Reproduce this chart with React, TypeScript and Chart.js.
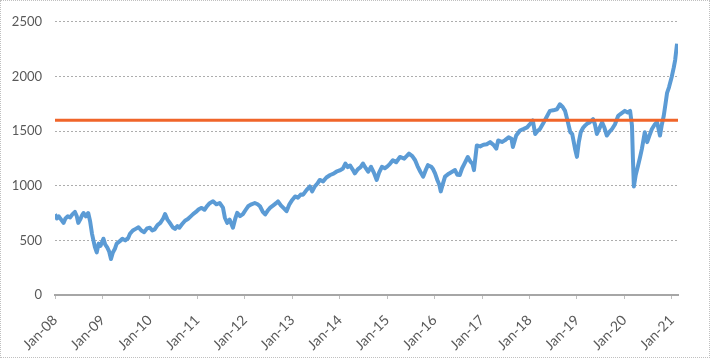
import React, { useEffect, useRef } from 'react';
import { Chart, registerables } from 'chart.js';

Chart.register(...registerables);

// Decimal-year positions of the sampled points
const dates: number[] = [
  2008.0, 2008.04, 2008.08, 2008.13, 2008.18, 2008.22, 2008.27, 2008.32, 2008.37, 2008.42, 2008.46, 2008.49, 2008.53, 2008.57, 2008.6, 2008.65, 2008.7, 2008.74, 2008.78, 2008.81, 2008.84, 2008.88, 2008.92, 2008.96,
  2009.02, 2009.06, 2009.1, 2009.14, 2009.18, 2009.22, 2009.26, 2009.3, 2009.36, 2009.42, 2009.48, 2009.54, 2009.58, 2009.64, 2009.7, 2009.76, 2009.82, 2009.88, 2009.94,
  2010.0, 2010.05, 2010.1, 2010.16, 2010.22, 2010.28, 2010.32, 2010.37, 2010.42, 2010.48, 2010.53, 2010.58, 2010.62, 2010.68, 2010.74, 2010.8, 2010.86, 2010.91, 2010.97,
  2011.03, 2011.09, 2011.15, 2011.2, 2011.26, 2011.33, 2011.4, 2011.47, 2011.54, 2011.58, 2011.63, 2011.68, 2011.75, 2011.8, 2011.84, 2011.9, 2011.96,
  2012.02, 2012.07, 2012.14, 2012.21, 2012.27, 2012.32, 2012.38, 2012.43, 2012.48, 2012.53, 2012.6, 2012.66, 2012.7, 2012.76, 2012.83, 2012.88, 2012.94,
  2013.0, 2013.06, 2013.12, 2013.18, 2013.23, 2013.3, 2013.37, 2013.42, 2013.47, 2013.53, 2013.58, 2013.65, 2013.72, 2013.8, 2013.87, 2013.93,
  2014.0, 2014.07, 2014.12, 2014.17, 2014.22, 2014.27, 2014.32, 2014.38, 2014.44, 2014.49, 2014.55, 2014.6, 2014.66, 2014.72, 2014.78, 2014.83, 2014.89, 2014.95,
  2015.0, 2015.06, 2015.12, 2015.19, 2015.27, 2015.36, 2015.41, 2015.46, 2015.53, 2015.59, 2015.64, 2015.7, 2015.76, 2015.81, 2015.86, 2015.93, 2015.97,
  2016.01, 2016.06, 2016.1, 2016.13, 2016.17, 2016.22, 2016.3, 2016.37, 2016.43, 2016.48, 2016.53, 2016.58, 2016.63, 2016.7, 2016.76, 2016.8, 2016.83, 2016.89, 2016.96,
  2017.03, 2017.1, 2017.17, 2017.25, 2017.3, 2017.34, 2017.42, 2017.48, 2017.56, 2017.62, 2017.65, 2017.72, 2017.8, 2017.88, 2017.95,
  2018.02, 2018.07, 2018.12, 2018.17, 2018.22, 2018.28, 2018.35, 2018.43, 2018.5, 2018.58, 2018.64, 2018.7, 2018.75, 2018.81, 2018.86, 2018.9, 2018.96,
  2019.0, 2019.04, 2019.08, 2019.13, 2019.17, 2019.22, 2019.27, 2019.34, 2019.38, 2019.42, 2019.47, 2019.53, 2019.58, 2019.63, 2019.68, 2019.74, 2019.8, 2019.87, 2019.93,
  2020.01, 2020.07, 2020.12, 2020.16, 2020.18, 2020.2, 2020.24, 2020.29, 2020.33, 2020.37, 2020.43, 2020.48, 2020.53, 2020.58, 2020.64, 2020.69, 2020.75, 2020.79, 2020.83, 2020.87, 2020.9, 2020.94,
  2021.0, 2021.04, 2021.07, 2021.11,
];

const values: number[] = [
  740, 700, 720, 690, 660, 700, 720, 710, 740, 760, 720, 660, 690, 730, 750, 720, 750, 675, 560, 500, 440, 390, 470, 450,
  515, 460, 435, 400, 330, 390, 420, 470, 490, 515, 500, 520, 560, 590, 605, 620, 590, 575, 610,
  616, 590, 600, 640, 660, 700, 740, 690, 660, 620, 605, 630, 616, 650, 680, 695, 720, 740, 760,
  785, 797, 780, 812, 840, 857, 830, 842, 800, 707, 660, 690, 616, 700, 752, 722, 740,
  780, 812, 830, 842, 830, 812, 760, 737, 770, 797, 820, 840, 857, 820, 790, 767, 830,
  870, 902, 890, 920, 918, 960, 993, 948, 990, 1020, 1053, 1040, 1075, 1098, 1110, 1128,
  1140, 1158, 1203, 1170, 1185, 1150, 1113, 1150, 1170, 1203, 1160, 1128, 1173, 1120, 1053, 1120, 1173, 1160,
  1175, 1200, 1233, 1215, 1263, 1248, 1270, 1293, 1270, 1233, 1180, 1128, 1083, 1140, 1188, 1173, 1150,
  1113, 1050, 1008, 948, 1010, 1083, 1110, 1128, 1143, 1100, 1098, 1160, 1203, 1263, 1218, 1200, 1143, 1369, 1360,
  1375, 1380, 1399, 1370, 1339, 1414, 1400, 1415, 1444, 1430, 1354, 1460, 1505, 1520, 1534,
  1570, 1597, 1474, 1500, 1519, 1564, 1620, 1685, 1690, 1700, 1745, 1720, 1685, 1580, 1489, 1474, 1339,
  1264, 1400, 1489, 1530, 1550, 1570, 1580, 1610, 1560, 1474, 1520, 1580, 1530, 1459, 1490, 1519, 1560, 1640, 1660,
  1685, 1670, 1685, 1550, 1248, 993, 1100, 1188, 1260, 1339, 1489, 1399, 1460, 1519, 1560, 1580, 1459, 1560, 1640, 1760, 1850, 1900,
  2000, 2080, 2150, 2300,
];

const threshold = 1600;
const xMin = 2008;
const xMax = 2021.13;
const yearTicks: number[] = [2008, 2009, 2010, 2011, 2012, 2013, 2014, 2015, 2016, 2017, 2018, 2019, 2020, 2021];
const yearLabels: string[] = ['Jan-08', 'Jan-09', 'Jan-10', 'Jan-11', 'Jan-12', 'Jan-13', 'Jan-14', 'Jan-15', 'Jan-16', 'Jan-17', 'Jan-18', 'Jan-19', 'Jan-20', 'Jan-21'];
const yMin = 0;
const yMax = 2500;
const yStep = 500;

export default function App() {
  const ref = useRef<HTMLCanvasElement>(null);

  useEffect(() => {
    document.body.style.margin = '0';
    const canvas = ref.current;
    if (!canvas) return;
    const chart = new Chart(canvas, {
      type: 'line',
      data: {
        datasets: [
          {
            data: [
              { x: xMin, y: threshold },
              { x: xMax, y: threshold },
            ],
            borderColor: '#F0652A',
            borderWidth: 3,
            pointRadius: 0,
          },
          {
            data: dates.map((d, i) => ({ x: d, y: values[i] })),
            borderColor: '#5B9BD5',
            borderWidth: 4,
            pointRadius: 0,
            tension: 0,
            borderJoinStyle: 'round',
          },
        ],
      },
      options: {
        responsive: false,
        animation: false,
        layout: { padding: { top: 17, right: 31, left: 0, bottom: 0 } },
        plugins: { legend: { display: false }, tooltip: { enabled: false } },
        scales: {
          x: {
            type: 'linear',
            min: xMin,
            max: xMax,
            afterBuildTicks: (s: any) => {
              s.ticks = yearTicks.map((v) => ({ value: v }));
            },
            afterFit: (s: any) => {
              s.height = 62;
            },
            ticks: {
              autoSkip: false,
              minRotation: 45,
              maxRotation: 45,
              padding: 13,
              color: '#595959',
              font: { family: 'Lato', size: 14 },
              callback: (_v: any, i: number) => yearLabels[i],
            },
            grid: { drawOnChartArea: false, drawTicks: true, tickLength: 4, color: '#BFBFBF' },
            border: { display: true, color: '#A6A6A6', width: 2 },
          },
          y: {
            min: yMin,
            max: yMax,
            afterFit: (s: any) => {
              s.width = 54;
            },
            ticks: {
              stepSize: yStep,
              padding: 13,
              color: '#595959',
              font: { family: 'Lato', size: 13 },
              callback: (v: any) => String(v),
            },
            grid: { drawTicks: false, color: '#ADADAD', lineWidth: 1 },
            border: { display: false, dash: [2, 2] },
          },
        },
      },
    });
    return () => chart.destroy();
  }, []);

  return (
    <div style={{ width: 710, height: 358, boxSizing: 'border-box', border: '1px dotted #c0c0c0' }}>
      <canvas ref={ref} width={708} height={356} style={{ display: 'block' }} />
    </div>
  );
}
